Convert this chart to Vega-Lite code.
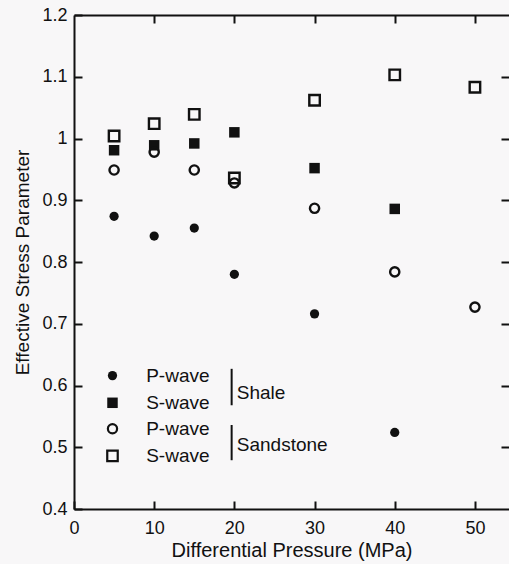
{
  "$schema": "https://vega.github.io/schema/vega-lite/v6.json",
  "width": 435,
  "height": 494,
  "autosize": {"type": "none"},
  "padding": {"left": 74, "top": 15, "right": 0, "bottom": 55},
  "background": "#f8f7f8",
  "config": {
    "view": {"stroke": null},
    "font": "Liberation Sans",
    "axis": {
      "domainColor": "#111",
      "domainWidth": 2,
      "tickColor": "#111",
      "tickWidth": 2,
      "labelColor": "#111",
      "titleColor": "#111",
      "grid": false,
      "labelFont": "Liberation Sans",
      "titleFont": "Liberation Sans",
      "titleFontWeight": "normal",
      "labelFlush": false,
      "labelOverlap": false
    }
  },
  "datasets": {
    "points": [
      {"p": 5, "v": 0.874, "rock": "Shale", "wave": "P"},
      {"p": 10, "v": 0.842, "rock": "Shale", "wave": "P"},
      {"p": 15, "v": 0.855, "rock": "Shale", "wave": "P"},
      {"p": 20, "v": 0.780, "rock": "Shale", "wave": "P"},
      {"p": 30, "v": 0.716, "rock": "Shale", "wave": "P"},
      {"p": 40, "v": 0.524, "rock": "Shale", "wave": "P"},
      {"p": 5, "v": 0.981, "rock": "Shale", "wave": "S"},
      {"p": 10, "v": 0.989, "rock": "Shale", "wave": "S"},
      {"p": 15, "v": 0.992, "rock": "Shale", "wave": "S"},
      {"p": 20, "v": 1.010, "rock": "Shale", "wave": "S"},
      {"p": 30, "v": 0.952, "rock": "Shale", "wave": "S"},
      {"p": 40, "v": 0.886, "rock": "Shale", "wave": "S"},
      {"p": 5, "v": 0.949, "rock": "Sandstone", "wave": "P"},
      {"p": 10, "v": 0.978, "rock": "Sandstone", "wave": "P"},
      {"p": 15, "v": 0.949, "rock": "Sandstone", "wave": "P"},
      {"p": 20, "v": 0.928, "rock": "Sandstone", "wave": "P"},
      {"p": 30, "v": 0.887, "rock": "Sandstone", "wave": "P"},
      {"p": 40, "v": 0.784, "rock": "Sandstone", "wave": "P"},
      {"p": 50, "v": 0.727, "rock": "Sandstone", "wave": "P"},
      {"p": 5, "v": 1.004, "rock": "Sandstone", "wave": "S"},
      {"p": 10, "v": 1.024, "rock": "Sandstone", "wave": "S"},
      {"p": 15, "v": 1.039, "rock": "Sandstone", "wave": "S"},
      {"p": 20, "v": 0.936, "rock": "Sandstone", "wave": "S"},
      {"p": 30, "v": 1.062, "rock": "Sandstone", "wave": "S"},
      {"p": 40, "v": 1.103, "rock": "Sandstone", "wave": "S"},
      {"p": 50, "v": 1.083, "rock": "Sandstone", "wave": "S"}
    ],
    "legend": [
      {"p": 4.8, "v": 0.616, "rock": "Shale", "wave": "P", "label": "P-wave"},
      {"p": 4.8, "v": 0.572, "rock": "Shale", "wave": "S", "label": "S-wave"},
      {"p": 4.8, "v": 0.530, "rock": "Sandstone", "wave": "P", "label": "P-wave"},
      {"p": 4.8, "v": 0.486, "rock": "Sandstone", "wave": "S", "label": "S-wave"}
    ],
    "brackets": [
      {"p": 19.66, "v1": 0.627, "v2": 0.568, "p2": 20.3, "vm": 0.588, "name": "Shale"},
      {"p": 19.66, "v1": 0.536, "v2": 0.479, "p2": 20.3, "vm": 0.503, "name": "Sandstone"}
    ]
  },
  "resolve": {"axis": {"x": "independent", "y": "independent"}},
  "layer": [
    {
      "data": {"name": "points"},
      "transform": [{"filter": "datum.rock == 'Shale'"}],
      "mark": {"type": "point", "filled": true, "opacity": 1, "color": "#111"},
      "encoding": {
        "x": {
          "field": "p", "type": "quantitative",
          "scale": {"domain": [0, 54.25], "nice": false, "zero": false},
          "axis": {
            "orient": "bottom", "values": [0, 10, 20, 30, 40, 50],
            "tickSize": -8, "labelPadding": 18, "labelFontSize": 18,
            "title": "Differential Pressure (MPa)", "titleFontSize": 20, "titlePadding": 3
          }
        },
        "y": {
          "field": "v", "type": "quantitative",
          "scale": {"domain": [0.4, 1.2], "nice": false, "zero": false},
          "axis": {
            "orient": "left", "values": [0.4, 0.5, 0.6, 0.7, 0.8, 0.9, 1.0, 1.1, 1.2],
            "labelExpr": "datum.value == 1 ? '1' : format(datum.value, '.1f')",
            "tickSize": -8, "labelPadding": 15, "labelFontSize": 18,
            "title": "Effective Stress Parameter", "titleFontSize": 19, "titlePadding": 9
          }
        },
        "shape": {"field": "wave", "type": "nominal", "scale": {"domain": ["P", "S"], "range": ["circle", "square"]}, "legend": null},
        "size": {"field": "wave", "type": "nominal", "scale": {"domain": ["P", "S"], "range": [85, 110]}, "legend": null}
      }
    },
    {
      "data": {"name": "points"},
      "transform": [{"filter": "datum.rock == 'Sandstone'"}],
      "mark": {"type": "point", "filled": false, "opacity": 1, "color": "#111", "strokeWidth": 2.4},
      "encoding": {
        "x": {
          "field": "p", "type": "quantitative",
          "axis": {"orient": "top", "values": [10, 20, 30, 40, 50], "labels": false, "title": null, "tickSize": -8}
        },
        "y": {
          "field": "v", "type": "quantitative",
          "axis": {"orient": "right", "values": [0.5, 0.6, 0.7, 0.8, 0.9, 1.0, 1.1], "labels": false, "title": null, "tickSize": -8, "domain": false}
        },
        "shape": {"field": "wave", "type": "nominal", "scale": {"domain": ["P", "S"], "range": ["circle", "square"]}, "legend": null},
        "size": {"field": "wave", "type": "nominal", "scale": {"domain": ["P", "S"], "range": [32, 60]}, "legend": null}
      }
    },
    {
      "data": {"name": "legend"},
      "transform": [{"filter": "datum.rock == 'Shale'"}],
      "mark": {"type": "point", "filled": true, "opacity": 1, "color": "#111"},
      "encoding": {
        "x": {"field": "p", "type": "quantitative", "axis": null},
        "y": {"field": "v", "type": "quantitative", "axis": null},
        "shape": {"field": "wave", "type": "nominal", "scale": {"domain": ["P", "S"], "range": ["circle", "square"]}, "legend": null},
        "size": {"field": "wave", "type": "nominal", "scale": {"domain": ["P", "S"], "range": [55, 60]}, "legend": null}
      }
    },
    {
      "data": {"name": "legend"},
      "transform": [{"filter": "datum.rock == 'Sandstone'"}],
      "mark": {"type": "point", "filled": false, "opacity": 1, "color": "#111", "strokeWidth": 2.2},
      "encoding": {
        "x": {"field": "p", "type": "quantitative", "axis": null},
        "y": {"field": "v", "type": "quantitative", "axis": null},
        "shape": {"field": "wave", "type": "nominal", "scale": {"domain": ["P", "S"], "range": ["circle", "square"]}, "legend": null},
        "size": {"field": "wave", "type": "nominal", "scale": {"domain": ["P", "S"], "range": [22, 36]}, "legend": null}
      }
    },
    {
      "data": {"name": "legend"},
      "mark": {"type": "text", "align": "left", "baseline": "middle", "fontSize": 19, "color": "#111"},
      "encoding": {
        "x": {"datum": 9.0, "type": "quantitative", "axis": null},
        "y": {"field": "v", "type": "quantitative", "axis": null},
        "text": {"field": "label"}
      }
    },
    {
      "data": {"name": "brackets"},
      "mark": {"type": "rule", "color": "#111", "strokeWidth": 2},
      "encoding": {
        "x": {"field": "p", "type": "quantitative", "axis": null},
        "y": {"field": "v1", "type": "quantitative", "axis": null},
        "y2": {"field": "v2"}
      }
    },
    {
      "data": {"name": "brackets"},
      "mark": {"type": "text", "align": "left", "baseline": "middle", "fontSize": 19, "color": "#111"},
      "encoding": {
        "x": {"field": "p2", "type": "quantitative", "axis": null},
        "y": {"field": "vm", "type": "quantitative", "axis": null},
        "text": {"field": "name"}
      }
    }
  ]
}
